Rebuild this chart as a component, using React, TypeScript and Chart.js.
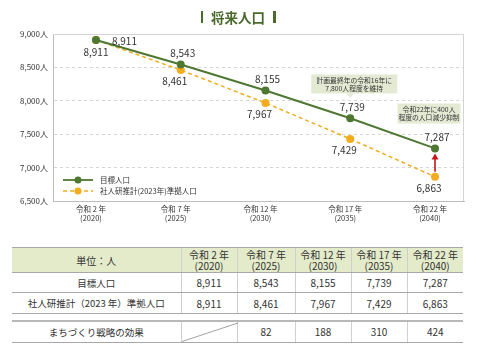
import React, { useEffect, useRef } from 'react';
import { Chart, registerables } from 'chart.js';

Chart.register(...registerables);

// ---- data ----
const eraLabels = ['令和 2 年', '令和 7 年', '令和 12 年', '令和 17 年', '令和 22 年'];
const yearLabels = ['(2020)', '(2025)', '(2030)', '(2035)', '(2040)'];
const targetPop = [8911, 8543, 8155, 7739, 7287];
const ipssPop = [8911, 8461, 7967, 7429, 6863];
const strategyEffect: (number | null)[] = [null, 82, 188, 310, 424];
const seriesNames = ['目標人口', '社人研推計(2023年)準拠人口'];
const tableRowNames = ['目標人口', '社人研推計（2023 年）準拠人口', 'まちづくり戦略の効果'];
const unitLabel = '単位：人';
const titleText = '将来人口';
const note1 = ['計画最終年の令和16年に', '7,800人程度を維持'];
const note2 = ['令和22年に400人', '程度の人口減少抑制'];
const yMin = 6500;
const yMax = 9000;
const yStep = 500;

const FONT = '"Noto Sans CJK JP", "Noto Sans", sans-serif';
const GREEN = '#4e7732';
const ORANGE = '#f2ac1d';
const TEXT = '#333333';

const fmt = (v: number) => v.toLocaleString('en-US');

const drawPlugin = {
  id: 'customDraw',
  beforeDatasetsDraw(chart: any) {
    const { ctx, chartArea } = chart;
    ctx.save();
    ctx.strokeStyle = '#d4d4d4';
    ctx.lineWidth = 1;
    ctx.beginPath();
    ctx.moveTo(chartArea.left, chartArea.top + 0.5);
    ctx.lineTo(chartArea.right - 0.5, chartArea.top + 0.5);
    ctx.lineTo(chartArea.right - 0.5, chartArea.bottom);
    ctx.stroke();
    ctx.restore();
  },
  afterDatasetsDraw(chart: any) {
    const { ctx, chartArea } = chart;
    const xs = chart.scales.x;
    const ys = chart.scales.y;
    ctx.save();

    // red arrow
    const last = targetPop.length - 1;
    const ax = xs.getPixelForValue(last);
    const yFrom = ys.getPixelForValue(ipssPop[last]) - 5;
    const yTo = ys.getPixelForValue(targetPop[last]) + 5;
    ctx.strokeStyle = '#c4161c';
    ctx.fillStyle = '#c4161c';
    ctx.lineWidth = 1.6;
    ctx.beginPath();
    ctx.moveTo(ax, yFrom);
    ctx.lineTo(ax, yTo + 5);
    ctx.stroke();
    ctx.beginPath();
    ctx.moveTo(ax, yTo);
    ctx.lineTo(ax - 3.5, yTo + 6);
    ctx.lineTo(ax + 3.5, yTo + 6);
    ctx.closePath();
    ctx.fill();

    // data labels
    ctx.font = `10px ${FONT}`;
    ctx.fillStyle = TEXT;
    ctx.textBaseline = 'middle';
    const m0 = chart.getDatasetMeta(0).data;
    const m1 = chart.getDatasetMeta(1).data;
    targetPop.forEach((v, i) => {
      const p = m0[i];
      if (i === 0) {
        ctx.textAlign = 'left';
        ctx.fillText(fmt(v), p.x + 16, p.y + 1);
      } else {
        ctx.textAlign = 'center';
        ctx.fillText(fmt(v), p.x + 2, p.y - 11);
      }
    });
    ipssPop.forEach((v, i) => {
      const p = m1[i];
      ctx.textAlign = 'center';
      if (i === 0) ctx.fillText(fmt(v), p.x, p.y + 12);
      else ctx.fillText(fmt(v), p.x - 6, p.y + 11);
    });

    // legend
    const lx = chartArea.left + 10;
    const rows = [chartArea.bottom - 21, chartArea.bottom - 10];
    [GREEN, ORANGE].forEach((c, k) => {
      const y = rows[k];
      ctx.strokeStyle = c;
      ctx.lineWidth = k === 0 ? 1.8 : 1.4;
      ctx.setLineDash(k === 0 ? [] : [4, 3]);
      ctx.beginPath();
      ctx.moveTo(lx, y);
      ctx.lineTo(lx + 30, y);
      ctx.stroke();
      ctx.setLineDash([]);
      ctx.fillStyle = c;
      ctx.beginPath();
      ctx.arc(lx + 15, y, 3.5, 0, Math.PI * 2);
      ctx.fill();
      ctx.fillStyle = TEXT;
      ctx.font = `7.5px ${FONT}`;
      ctx.textAlign = 'left';
      ctx.fillText(seriesNames[k], lx + 37, y);
    });

    // callouts
    const drawBox = (lines: string[], cx: number, bottom: number, w: number, h: number, pointer: boolean) => {
      ctx.fillStyle = '#e3e9d2';
      ctx.fillRect(cx - w / 2, bottom - h, w, h);
      if (pointer) {
        ctx.beginPath();
        ctx.moveTo(cx - 8, bottom);
        ctx.lineTo(cx - 4, bottom + 4);
        ctx.lineTo(cx, bottom);
        ctx.closePath();
        ctx.fill();
      }
      ctx.fillStyle = TEXT;
      ctx.font = `6.8px ${FONT}`;
      ctx.textAlign = 'center';
      ctx.fillText(lines[0], cx, bottom - h + 5.5);
      ctx.fillText(lines[1], cx, bottom - h + 14);
    };
    const n1x = xs.getPixelForValue(3);
    const n1y = ys.getPixelForValue(8050);
    drawBox(note1, n1x + 4, n1y - 4, 86, 19, true);
    const n2x = xs.getPixelForValue(4);
    const n2y = ys.getPixelForValue(7660);
    drawBox(note2, n2x - 6, n2y, 63, 20, false);

    ctx.restore();
  },
};

function PopulationChart() {
  const ref = useRef<HTMLCanvasElement>(null);
  useEffect(() => {
    if (!ref.current) return;
    const chart = new Chart(ref.current, {
      type: 'line',
      data: {
        datasets: [
          {
            label: seriesNames[0],
            data: targetPop.map((v, i) => ({ x: i, y: v })),
            borderColor: GREEN,
            backgroundColor: GREEN,
            borderWidth: 2,
            pointRadius: 4,
            pointBackgroundColor: GREEN,
            pointBorderWidth: 0,
            order: 1,
          },
          {
            label: seriesNames[1],
            data: ipssPop.map((v, i) => ({ x: i, y: v })),
            borderColor: ORANGE,
            backgroundColor: ORANGE,
            borderWidth: 1.5,
            borderDash: [4, 3],
            pointRadius: 4,
            pointBackgroundColor: ORANGE,
            pointBorderWidth: 0,
            order: 2,
          },
        ],
      },
      options: {
        animation: false,
        responsive: false,
        maintainAspectRatio: false,
        layout: { padding: { top: 34, right: 15, left: 0, bottom: 0 } },
        plugins: { legend: { display: false }, tooltip: { enabled: false }, title: { display: false } },
        scales: {
          x: {
            type: 'linear',
            min: -0.507,
            max: 4.342,
            afterBuildTicks: (s: any) => {
              s.ticks = eraLabels.map((_, i) => ({ value: i }));
            },
            afterFit: (s: any) => {
              s.height = 34;
            },
            grid: { display: false, drawTicks: false },
            border: { display: true, color: '#bdbdbd', width: 1 },
            ticks: {
              padding: 4,
              color: TEXT,
              font: { family: FONT, size: 7.5 },
              maxRotation: 0,
              autoSkip: false,
              labelOffset: -5,
              callback: (v: any) => [eraLabels[v], yearLabels[v]],
            },
          },
          y: {
            type: 'linear',
            min: yMin,
            max: yMax,
            afterFit: (s: any) => {
              s.width = 53;
            },
            grid: { color: '#d6d6d6', lineWidth: 1, drawTicks: false },
            border: { display: true, color: '#bdbdbd', width: 1, dash: [3, 3] },
            ticks: {
              stepSize: yStep,
              padding: 5,
              color: TEXT,
              font: { family: FONT, size: 8 },
              callback: (v: any) => `${fmt(v)}人`,
            },
          },
        },
      },
      plugins: [drawPlugin],
    });
    return () => chart.destroy();
  }, []);
  return <canvas ref={ref} width={479} height={235} style={{ position: 'absolute', left: 0, top: 0 }} />;
}

const hLine = '1px solid #a8a8a8';
const vLine = '1px solid #cfcfcf';
const colWidths = [169, 56, 58, 56, 56, 56];

function cellStyle(i: number, extra: any = {}) {
  return {
    borderTop: hLine,
    borderBottom: hLine,
    borderLeft: i === 0 ? 'none' : vLine,
    borderRight: 'none',
    padding: 0,
    textAlign: 'center' as const,
    verticalAlign: 'middle' as const,
    ...extra,
  };
}

function PopTable() {
  const tableStyle: any = {
    position: 'absolute',
    left: 12,
    width: 451,
    borderCollapse: 'collapse',
    tableLayout: 'fixed',
    fontFamily: FONT,
    fontSize: 9.5,
    color: TEXT,
  };
  const cols = (
    <colgroup>
      {colWidths.map((w, i) => (
        <col key={i} style={{ width: w }} />
      ))}
    </colgroup>
  );
  return (
    <>
      <table style={{ ...tableStyle, top: 247 }}>
        {cols}
        <tbody>
          <tr style={{ height: 25, background: '#e4ebcb' }}>
            <td style={cellStyle(0, { fontSize: 10 })}>{unitLabel}</td>
            {eraLabels.map((e, i) => (
              <td key={i} style={cellStyle(i + 1, { fontSize: 10, lineHeight: '11px' })}>
                {e}
                <br />
                {yearLabels[i]}
              </td>
            ))}
          </tr>
          <tr style={{ height: 20 }}>
            <td style={cellStyle(0)}>{tableRowNames[0]}</td>
            {targetPop.map((v, i) => (
              <td key={i} style={cellStyle(i + 1, { fontSize: 10 })}>{fmt(v)}</td>
            ))}
          </tr>
          <tr style={{ height: 21 }}>
            <td style={cellStyle(0)}>{tableRowNames[1]}</td>
            {ipssPop.map((v, i) => (
              <td key={i} style={cellStyle(i + 1, { fontSize: 10 })}>{fmt(v)}</td>
            ))}
          </tr>
        </tbody>
      </table>
      <table style={{ ...tableStyle, top: 320 }}>
        {cols}
        <tbody>
          <tr style={{ height: 21 }}>
            <td style={cellStyle(0, { borderTop: '2px solid #b8b8b8' })}>{tableRowNames[2]}</td>
            {strategyEffect.map((v, i) => (
              <td
                key={i}
                style={cellStyle(i + 1, { fontSize: 10, borderTop: '2px solid #b8b8b8', position: 'relative' })}
              >
                {v === null ? (
                  <svg width="56" height="20" style={{ position: 'absolute', left: 0, top: 0 }}>
                    <line x1="0" y1="19.5" x2="56" y2="1" stroke="#8a8a8a" strokeWidth="0.8" />
                  </svg>
                ) : (
                  fmt(v)
                )}
              </td>
            ))}
          </tr>
        </tbody>
      </table>
    </>
  );
}

export default function App() {
  return (
    <div
      style={{
        position: 'fixed',
        left: 0,
        top: 0,
        width: 479,
        height: 351,
        background: '#ffffff',
        overflow: 'hidden',
        fontFamily: FONT,
      }}
    >
      <PopulationChart />
      <div
        style={{
          position: 'absolute',
          left: 0,
          top: 7,
          width: 479,
          display: 'flex',
          justifyContent: 'center',
          alignItems: 'center',
          color: '#4a6a2c',
          fontWeight: 'bold',
          fontSize: 13.5,
          lineHeight: '20px',
          paddingLeft: 0,
        }}
      >
        <div style={{ display: 'flex', alignItems: 'center', marginLeft: -3 }}>
          <span style={{ display: 'inline-block', width: 2.5, height: 12, background: '#4a6a2c', marginRight: 8 }} />
          <span>{titleText}</span>
          <span style={{ display: 'inline-block', width: 2.5, height: 12, background: '#4a6a2c', marginLeft: 8 }} />
        </div>
      </div>
      <PopTable />
    </div>
  );
}
